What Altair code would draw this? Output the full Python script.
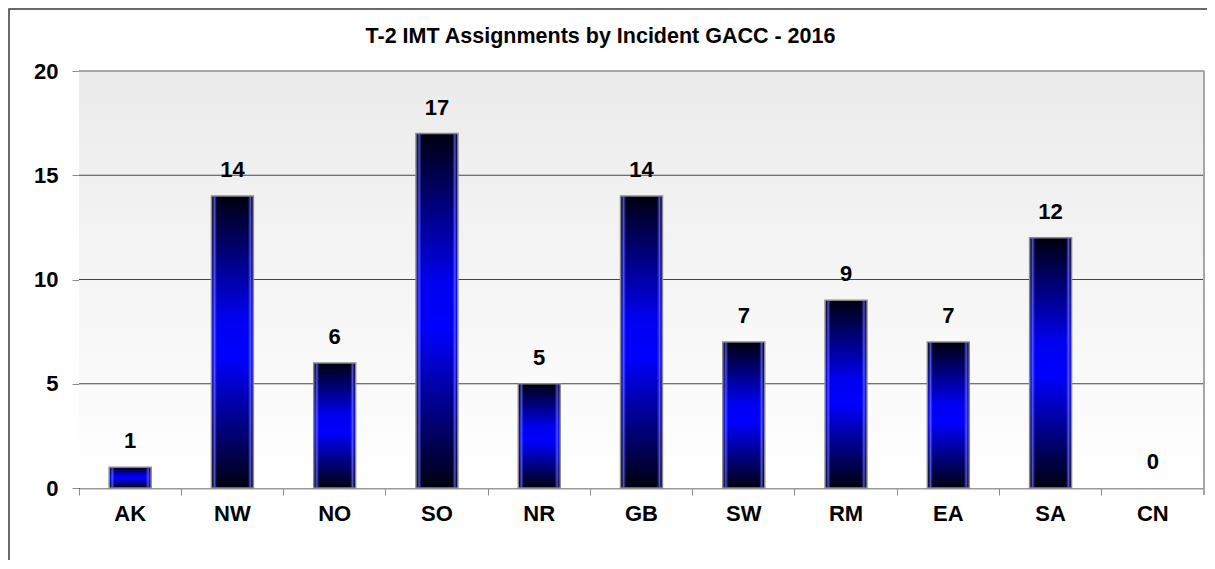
import altair as alt
import pandas as pd

categories = ["AK", "NW", "NO", "SO", "NR", "GB", "SW", "RM", "EA", "SA", "CN"]
values = [1, 14, 6, 17, 5, 14, 7, 9, 7, 12, 0]
grid_values = [5, 10, 15]
y_ticks = [0, 5, 10, 15, 20]
title_text = "T-2 IMT Assignments by Incident GACC - 2016"

W, H = 1125, 417
FONT = "Liberation Sans"

df = pd.DataFrame({"cat": categories, "val": values})
grid_df = pd.DataFrame({"v": grid_values})

xscale = alt.Scale(domain=categories, paddingInner=0, paddingOuter=0)
yscale = alt.Scale(domain=[0, 20], nice=False, zero=True)

x_axis = alt.Axis(bandPosition=0, labelAngle=0, labelFont=FONT,
                  labelFontSize=22, labelFontWeight="bold",
                  labelColor="#000000", labelPadding=8,
                  tickSize=7, tickColor="#8c8c8c", tickWidth=1,
                  domainColor="#9a9a9a", domainWidth=2, grid=False, title=None)
y_axis = alt.Axis(values=y_ticks, labelFont=FONT, labelFontSize=22,
                  labelFontWeight="bold", labelColor="#000000",
                  labelPadding=14, tickSize=7, tickColor="#8c8c8c",
                  domainColor="#000000", domainWidth=1, grid=False, title=None)

X = alt.X("cat:N", scale=xscale, sort=categories, axis=x_axis)
Y = alt.Y("val:Q", scale=yscale, axis=y_axis)

bg = alt.Chart(pd.DataFrame({"a": [0]})).mark_rect(
    fill=alt.LinearGradient(
        gradient="linear", x1=0, x2=0, y1=0, y2=1,
        stops=[alt.GradientStop(offset=0, color="#ebebeb"),
               alt.GradientStop(offset=1, color="#ffffff")],
    )
).encode(x=alt.value(0), x2=alt.value(W), y=alt.value(0), y2=alt.value(H))

grid = alt.Chart(grid_df).mark_rule(color="#454545", strokeWidth=1).encode(
    y=alt.Y("v:Q", scale=yscale, axis=y_axis)
)

bar_fill = alt.LinearGradient(
    gradient="linear", x1=0, x2=0, y1=0, y2=1,
    stops=[alt.GradientStop(offset=0, color="#00000f"),
           alt.GradientStop(offset=0.42, color="#0000f0"),
           alt.GradientStop(offset=0.55, color="#0000ff"),
           alt.GradientStop(offset=1, color="#00000f")],
)

bars = alt.Chart(df).transform_filter("datum.val > 0").mark_bar(
    fill=bar_fill, stroke="#8a8a8a", strokeWidth=1.5,
    width=alt.RelativeBandSize(0.41),
).encode(x=X, y=Y)

highlight = alt.Chart(df).transform_filter("datum.val > 0").mark_bar(
    fill=alt.LinearGradient(
        gradient="linear", x1=0, x2=1, y1=0, y2=0,
        stops=[alt.GradientStop(offset=0, color="rgba(90,90,255,0)"),
               alt.GradientStop(offset=0.05, color="rgba(110,110,255,0.75)"),
               alt.GradientStop(offset=0.11, color="rgba(90,90,255,0)"),
               alt.GradientStop(offset=0.89, color="rgba(90,90,255,0)"),
               alt.GradientStop(offset=0.95, color="rgba(110,110,255,0.75)"),
               alt.GradientStop(offset=1, color="rgba(90,90,255,0)")],
    ),
    width=alt.RelativeBandSize(0.39),
).encode(x=X, y=Y)

labels = alt.Chart(df).mark_text(
    font=FONT, fontSize=22, fontWeight="bold", color="#000000",
    baseline="bottom", dy=-14,
).encode(x=X, y=Y, text="val:Q")

top_border = alt.Chart(pd.DataFrame({"a": [0]})).mark_rule(
    color="#a6a6a6", strokeWidth=2
).encode(x=alt.value(0), x2=alt.value(W), y=alt.value(0))

right_border = alt.Chart(pd.DataFrame({"a": [0]})).mark_rule(
    color="#a6a6a6", strokeWidth=2
).encode(x=alt.value(W), y=alt.value(0), y2=alt.value(H + 7))

outer = alt.Chart(pd.DataFrame({"a": [0]})).mark_rect(
    fill=None, stroke="#3a3a3a", strokeWidth=1.5
).encode(x=alt.value(-70), x2=alt.value(W + 200), y=alt.value(-62), y2=alt.value(H + 200))

chart = alt.layer(bg, grid, bars, highlight, labels, top_border, right_border, outer).properties(
    width=W, height=H,
    title=alt.TitleParams(title_text, font=FONT, fontSize=21.5, fontWeight="bold",
                          color="#000000", anchor="middle", frame="group",
                          baseline="alphabetic", dx=-41, offset=-55.75),
    autosize=alt.AutoSizeParams(type="none"),
    padding={"left": 71, "top": 63, "right": 3, "bottom": 72},
).configure_view(stroke=None).configure(background="#ffffff")

chart.save("out.html", embed_options={"renderer": "svg", "actions": False})
